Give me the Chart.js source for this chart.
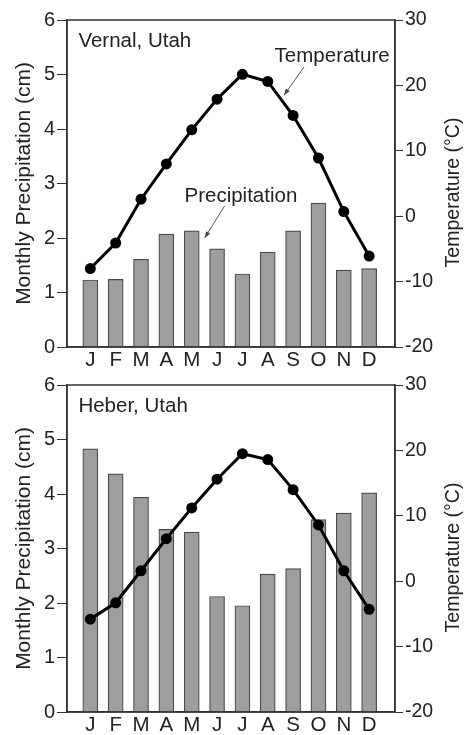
<!DOCTYPE html>
<html>
<head>
<meta charset="utf-8">
<script src="https://cdn.jsdelivr.net/npm/chart.js@4.4.1/dist/chart.umd.min.js"></script>
<style>
  html, body { margin: 0; padding: 0; background: #fff; }
  body { width: 465px; height: 735px; position: relative; overflow: hidden; }
  canvas { position: absolute; left: 0; }
  #vernal { top: 0; }
  #heber { top: 365px; }
</style>
</head>
<body>
<canvas id="vernal" width="465" height="370"></canvas>
<canvas id="heber" width="465" height="370"></canvas>
<script>
// --- data ---
const months = ['J', 'F', 'M', 'A', 'M', 'J', 'J', 'A', 'S', 'O', 'N', 'D'];

const vernalPrecip = [1.23, 1.24, 1.61, 2.07, 2.13, 1.80, 1.34, 1.74, 2.13, 2.64, 1.41, 1.44];
const vernalTemp = [-8.0, -4.1, 2.6, 8.0, 13.2, 17.9, 21.7, 20.6, 15.4, 8.9, 0.7, -6.1];

const heberPrecip = [4.83, 4.37, 3.94, 3.35, 3.30, 2.12, 1.95, 2.53, 2.63, 3.53, 3.65, 4.02];
const heberTemp = [-5.8, -3.3, 1.6, 6.5, 11.2, 15.6, 19.5, 18.6, 14.0, 8.6, 1.6, -4.3];

const precipTicks = [0, 1, 2, 3, 4, 5, 6];
const tempTicks = [-20, -10, 0, 10, 20, 30];

const FONT = '"Liberation Sans", Arial, Helvetica, sans-serif';
const INK = '#222';
const AXIS = '#333';

Chart.defaults.font.family = FONT;
Chart.defaults.color = INK;

// frame, right-hand title and the text notes
const notesPlugin = {
  id: 'notes',
  afterDraw(chart, args, opts) {
    const { ctx, chartArea: a, scales } = chart;
    const x = scales.x, yp = scales.y, yt = scales.y2;
    ctx.save();
    ctx.strokeStyle = AXIS;
    ctx.lineWidth = 1.5;
    ctx.strokeRect(a.left, a.top, a.right - a.left, a.bottom - a.top);

    ctx.fillStyle = INK;
    ctx.font = '19.5px ' + FONT;
    ctx.textAlign = 'center';
    ctx.textBaseline = 'middle';
    ctx.translate(454, (a.top + a.bottom) / 2 + 9);
    ctx.rotate(-Math.PI / 2);
    ctx.fillText('Temperature (°C)', 0, 0);
    ctx.setTransform(1, 0, 0, 1, 0, 0);

    ctx.font = '20.5px ' + FONT;
    ctx.textAlign = 'left';
    ctx.fillText(opts.place, x.getPixelForValue(-0.47), yp.getPixelForValue(5.6));

    (opts.labels || []).forEach(l => {
      const sc = l.axis === 'y2' ? yt : yp;
      ctx.font = '20.5px ' + FONT;
      ctx.textAlign = 'center';
      ctx.fillStyle = INK;
      ctx.fillText(l.text, x.getPixelForValue(l.tx), sc.getPixelForValue(l.ty));
      const x1 = x.getPixelForValue(l.from[0]), y1 = sc.getPixelForValue(l.from[1]);
      const x2 = x.getPixelForValue(l.to[0]), y2 = sc.getPixelForValue(l.to[1]);
      ctx.strokeStyle = '#555';
      ctx.lineWidth = 1;
      ctx.beginPath();
      ctx.moveTo(x1, y1);
      ctx.lineTo(x2, y2);
      ctx.stroke();
      const ang = Math.atan2(y2 - y1, x2 - x1);
      ctx.fillStyle = '#444';
      ctx.beginPath();
      ctx.moveTo(x2, y2);
      ctx.lineTo(x2 - 7 * Math.cos(ang - 0.35), y2 - 7 * Math.sin(ang - 0.35));
      ctx.lineTo(x2 - 7 * Math.cos(ang + 0.35), y2 - 7 * Math.sin(ang + 0.35));
      ctx.closePath();
      ctx.fill();
    });
    ctx.restore();
  }
};

function climateChart(id, place, precip, temp, labels) {
  const ctx = document.getElementById(id).getContext('2d');
  return new Chart(ctx, {
    type: 'bar',
    data: {
      datasets: [
        {
          type: 'line',
          label: 'Temperature',
          data: temp.map((v, i) => ({ x: i, y: v })),
          yAxisID: 'y2',
          borderColor: '#000',
          borderWidth: 3,
          pointRadius: 5.5,
          pointBackgroundColor: '#000',
          pointBorderColor: '#000',
          pointBorderWidth: 0,
          tension: 0,
          order: 0
        },
        {
          type: 'bar',
          label: 'Precipitation',
          data: precip.map((v, i) => ({ x: i, y: v })),
          yAxisID: 'y',
          backgroundColor: '#9e9e9e',
          borderColor: '#4a4a4a',
          borderWidth: 1.2,
          barThickness: 15,
          order: 1
        }
      ]
    },
    options: {
      responsive: false,
      animation: false,
      devicePixelRatio: 1,
      layout: { padding: { top: 20, left: 0, right: 0, bottom: 0 } },
      plugins: {
        legend: { display: false },
        tooltip: { enabled: false },
        notes: { place, labels }
      },
      scales: {
        x: {
          type: 'linear',
          offset: false,
          min: -0.92,
          max: 12.02,
          bounds: 'data',
          grid: { display: false, drawTicks: false },
          border: { display: true, color: AXIS, width: 1.5 },
          afterBuildTicks: s => { s.ticks = months.map((m, i) => ({ value: i })); },
          ticks: {
            autoSkip: false,
            maxRotation: 0,
            padding: 1,
            color: INK,
            font: { size: 20.5 },
            callback: v => months[v] ?? ''
          },
          afterFit: s => { s.height = 23; }
        },
        y: {
          position: 'left',
          min: precipTicks[0],
          max: precipTicks[precipTicks.length - 1],
          afterBuildTicks: s => { s.ticks = precipTicks.map(v => ({ value: v })); },
          grid: { drawOnChartArea: false, drawTicks: true, tickLength: 10, color: AXIS, lineWidth: 1 },
          border: { display: true, color: AXIS, width: 1.5 },
          ticks: { padding: 2, color: INK, font: { size: 20 } },
          title: {
            display: true,
            text: 'Monthly Precipitation (cm)',
            color: INK,
            font: { size: 21 },
            padding: { top: 12, bottom: 0 }
          },
          afterFit: s => { s.width = 67; }
        },
        y2: {
          position: 'right',
          min: tempTicks[0],
          max: tempTicks[tempTicks.length - 1],
          afterBuildTicks: s => { s.ticks = tempTicks.map(v => ({ value: v })); },
          grid: { drawOnChartArea: false, drawTicks: true, tickLength: 8, color: AXIS, lineWidth: 1 },
          border: { display: true, color: AXIS, width: 1.5 },
          ticks: { padding: 2, color: INK, font: { size: 19.5 } },
          afterFit: s => { s.width = 70; }
        }
      }
    },
    plugins: [notesPlugin]
  });
}

climateChart('vernal', 'Vernal, Utah', vernalPrecip, vernalTemp, [
  { text: 'Temperature', axis: 'y2', tx: 9.54, ty: 24.5, from: [8.43, 22.8], to: [7.64, 18.5] },
  { text: 'Precipitation', axis: 'y', tx: 5.94, ty: 2.77, from: [5.30, 2.59], to: [4.51, 2.0] }
]);
climateChart('heber', 'Heber, Utah', heberPrecip, heberTemp, []);
</script>
</body>
</html>
